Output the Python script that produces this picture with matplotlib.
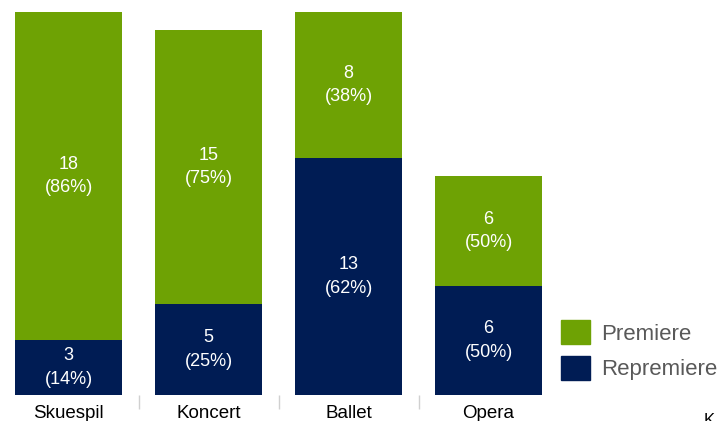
import matplotlib.pyplot as plt
from matplotlib.patches import Patch

plt.rcParams["font.family"] = ["Liberation Sans", "DejaVu Sans"]

categories = ["Skuespil", "Koncert", "Ballet", "Opera"]
repremiere = [3, 5, 13, 6]
premiere = [18, 15, 8, 6]

green = "#6EA204"
navy = "#001C54"

fig = plt.figure(figsize=(7.17, 4.21), dpi=100)
ax = fig.add_axes([0, 26 / 421, 560 / 717, 383 / 421])

x = list(range(len(categories)))
width = 107 / 140
ax.bar(x, repremiere, width=width, color=navy, label="Repremiere")
ax.bar(x, premiere, width=width, bottom=repremiere, color=green, label="Premiere")

for i, (r, p) in enumerate(zip(repremiere, premiere)):
    total = r + p
    ax.text(i, r / 2, f"{r}\n({round(r / total * 100)}%)", ha="center", va="center",
            color="white", fontsize=13, linespacing=1.5)
    ax.text(i, r + p / 2, f"{p}\n({round(p / total * 100)}%)", ha="center", va="center",
            color="white", fontsize=13, linespacing=1.5)

ax.set_xlim(-68.5 / 140, (560 - 68.5) / 140)
ax.set_ylim(0, 21)
ax.set_xticks(x)
ax.set_xticklabels(categories, fontsize=13.5)
ax.tick_params(axis="x", length=0, pad=7)
ax.set_xticks([0.5, 1.5, 2.5], minor=True)
ax.tick_params(axis="x", which="minor", length=10, color="#D0D0D0", width=1)
ax.set_yticks([])
for s in ax.spines.values():
    s.set_visible(False)

handles = [Patch(color=green, label="Premiere"), Patch(color=navy, label="Repremiere")]
fig.legend(handles=handles, loc="upper left", bbox_to_anchor=(561 / 717, 1 - 320 / 421),
           frameon=False, fontsize=16, handlelength=1.3, handleheight=1.3,
           labelspacing=0.5, handletextpad=0.5, labelcolor="#595959", borderaxespad=0,
           borderpad=0)

fig.text(704 / 717, -4 / 421, "K", fontsize=12, color="black")

fig.savefig("out.png", dpi=100)
